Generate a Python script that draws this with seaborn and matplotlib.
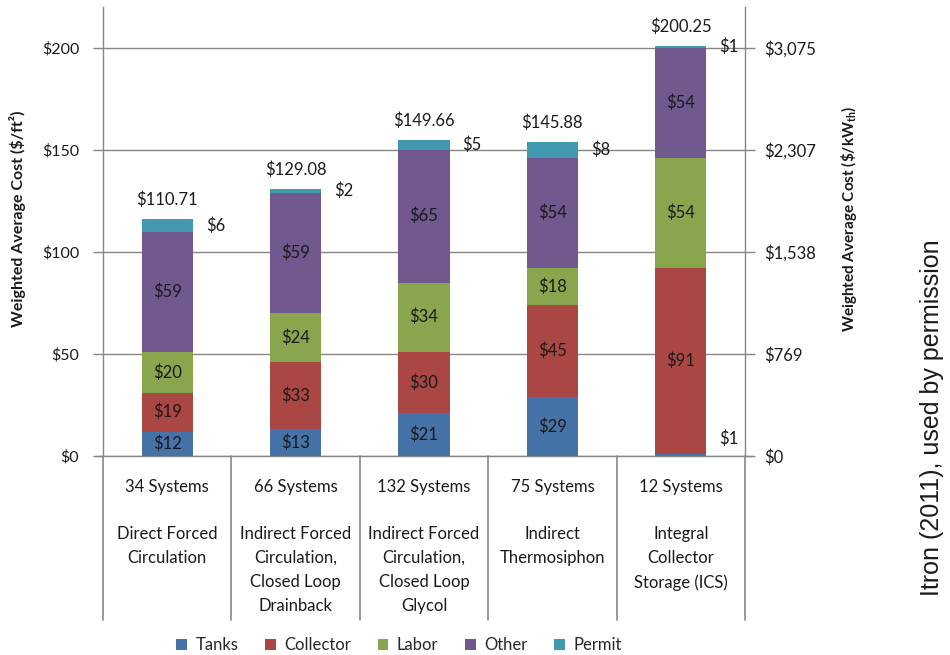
import matplotlib
matplotlib.use("Agg")
import matplotlib.pyplot as plt
from matplotlib.patches import Patch
import seaborn as sns
import numpy as np

# Weighted average installed cost by system type ($/ft2)
systems = ["34 Systems", "66 Systems", "132 Systems", "75 Systems", "12 Systems"]
system_types = [
    "Direct Forced\nCirculation",
    "Indirect Forced\nCirculation,\nClosed Loop\nDrainback",
    "Indirect Forced\nCirculation,\nClosed Loop\nGlycol",
    "Indirect\nThermosiphon",
    "Integral\nCollector\nStorage (ICS)",
]
tanks = [12, 13, 21, 29, 1]
collector = [19, 33, 30, 45, 91]
labor = [20, 24, 34, 18, 54]
other = [59, 59, 65, 54, 54]
permit = [6, 2, 5, 8, 1]
total_labels = ["$110.71", "$129.08", "$149.66", "$145.88", "$200.25"]

left_ticks = [0, 50, 100, 150, 200]
left_ticklabels = ["$0", "$50", "$100", "$150", "$200"]
right_ticklabels = ["$0", "$769", "$1,538", "$2,307", "$3,075"]

series_names = ["Tanks", "Collector", "Labor", "Other", "Permit"]
series_colors = ["#4572A7", "#AA4643", "#89A54E", "#71588F", "#4198AF"]

sns.set_style("white")
plt.rcParams["font.family"] = ["Lato", "DejaVu Sans"]
plt.rcParams["mathtext.fontset"] = "custom"
plt.rcParams["mathtext.rm"] = "Lato:bold"

txt = "#1a1a1a"
fs = 12

fig = plt.figure(figsize=(9.5, 6.55), dpi=100)
ax = fig.add_axes([0.1084, 0.3038, 0.6758, 0.6855])

layers = [np.array(tanks), np.array(collector), np.array(labor),
          np.array(other), np.array(permit)]
cums = np.cumsum(layers, axis=0)
bottoms = cums - np.array(layers)

bar_w = 0.4
# stacked bars drawn as overlapping cumulative bars, tallest first
for k in range(len(layers) - 1, -1, -1):
    sns.barplot(x=list(range(len(systems))), y=cums[k], color=series_colors[k],
                width=bar_w, saturation=1, errorbar=None, linewidth=0,
                native_scale=True, ax=ax)

gray = "#868686"
ax.set_xlim(-0.5, len(systems) - 0.5)
ax.set_ylim(0, 220)
ax.set_yticks(left_ticks)
ax.set_yticklabels(left_ticklabels, fontsize=11.5)
ax.set_xticks([])
ax.set_xlabel("")
ax.yaxis.grid(True, color=gray, lw=1)
ax.set_axisbelow(True)
ax.tick_params(axis="y", length=7, width=1, color=gray, pad=10, labelcolor=txt)
for s in ["top", "bottom"]:
    ax.spines[s].set_visible(False)
for s in ["left", "right"]:
    ax.spines[s].set_color(gray)
    ax.spines[s].set_linewidth(1)
ax.set_ylabel("Weighted Average Cost ($/ft²)", fontsize=11.5, fontweight="bold",
              color=txt)
ax.yaxis.set_label_coords(-0.12, 0.528)

ax2 = ax.twinx()
ax2.set_ylim(ax.get_ylim())
ax2.set_yticks(left_ticks)
ax2.set_yticklabels(right_ticklabels, fontsize=12)
ax2.tick_params(axis="y", length=7, width=1, color=gray, pad=7, labelcolor=txt)
for s in ax2.spines.values():
    s.set_visible(False)
ax2.set_ylabel(r"Weighted Average Cost (\$/kW$_{\mathrm{th}}$)", fontsize=11,
               fontweight="bold", color=txt)
ax2.yaxis.set_label_coords(1.146, 0.528)

# segment value labels
for k in range(len(layers) - 1):
    for i in range(len(systems)):
        v = layers[k][i]
        if k == 0 and v < 5:
            ax.text(i + bar_w / 2 + 0.1, bottoms[k][i] + v / 2 + 8, f"${v}",
                    ha="left", va="center", fontsize=fs, color=txt)
        else:
            ax.text(i, bottoms[k][i] + v / 2, f"${v}", ha="center", va="center",
                    fontsize=fs, color=txt)
for i in range(len(systems)):
    v = layers[-1][i]
    ax.text(i + bar_w / 2 + 0.1, bottoms[-1][i] + v / 2, f"${v}", ha="left",
            va="center", fontsize=fs, color=txt)
    ax.text(i, cums[-1][i] + 9.5, total_labels[i], ha="center", va="center",
            fontsize=fs, color=txt)

# category boxes below the plotting area
tr = ax.get_xaxis_transform()
box_bottom = -0.365
for xb in np.arange(-0.5, len(systems), 1.0):
    ax.plot([xb, xb], [0, box_bottom], transform=tr, color=gray, lw=1.2,
            clip_on=False)
ax.plot([-0.5 - 0.055, len(systems) - 0.5 + 0.055], [0, 0], transform=tr,
        color=gray, lw=1, clip_on=False, zorder=0.5)
for i in range(len(systems)):
    ax.text(i, -0.069, systems[i], transform=tr, ha="center", va="center",
            fontsize=fs, color=txt)
    ax.text(i, -0.156, system_types[i], transform=tr, ha="center", va="top",
            fontsize=fs, color=txt, linespacing=1.62)

handles = [Patch(facecolor=c, edgecolor="none", label=n)
           for n, c in zip(series_names, series_colors)]
fig.legend(handles=handles, loc="center", bbox_to_anchor=(0.42, 0.015), ncol=5,
           frameon=False, fontsize=fs, handlelength=0.65, handleheight=0.65,
           handletextpad=0.5, columnspacing=1.6)

fig.text(0.981, 0.363, "Itron (2011), used by permission", rotation=90,
         ha="center", va="center", fontsize=18,
         family=["Liberation Sans", "DejaVu Sans"], color=txt)

fig.savefig("out.png", dpi=100)
